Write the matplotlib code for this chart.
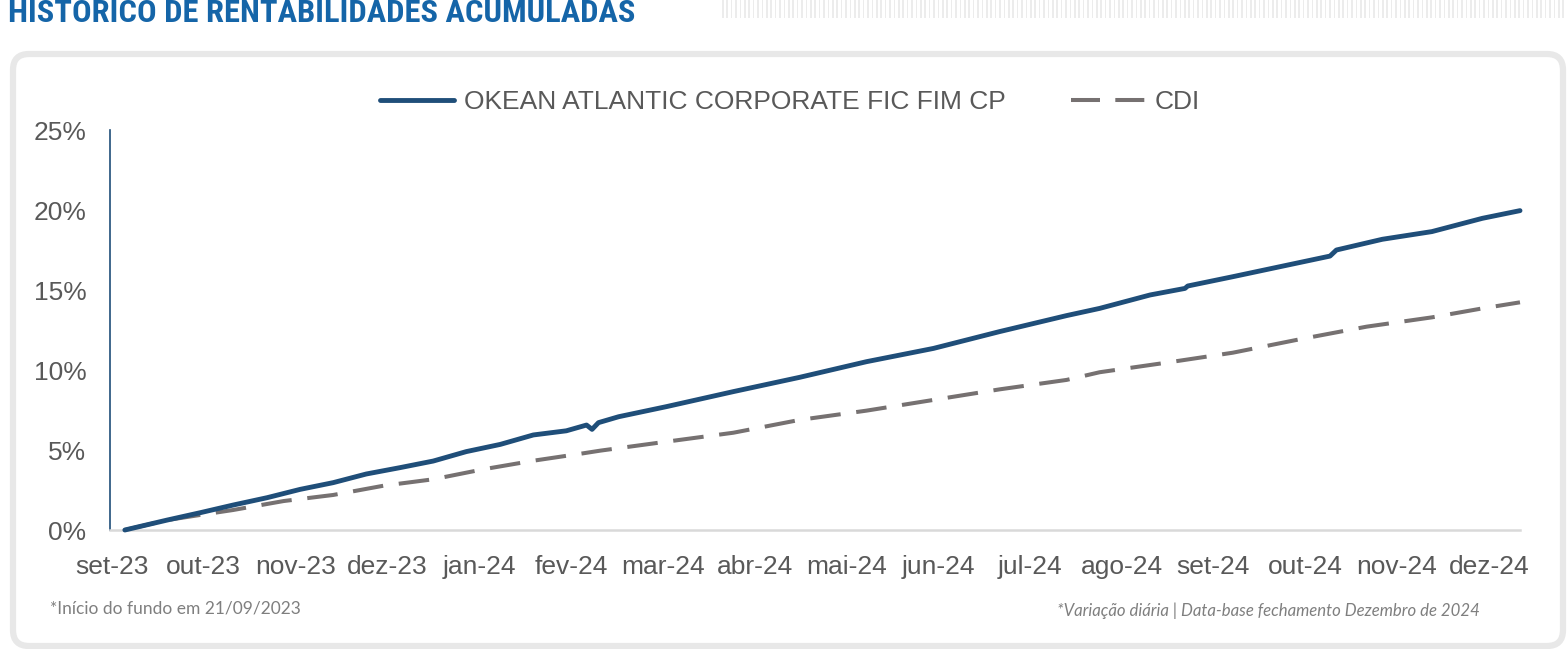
import matplotlib
matplotlib.use("Agg")
import matplotlib.pyplot as plt
import numpy as np
from matplotlib import font_manager
from matplotlib.patches import FancyBboxPatch, Rectangle
from matplotlib.transforms import IdentityTransform
from matplotlib.lines import Line2D

# ---------------- data ----------------
months = ["set-23", "out-23", "nov-23", "dez-23", "jan-24", "fev-24", "mar-24", "abr-24",
          "mai-24", "jun-24", "jul-24", "ago-24", "set-24", "out-24", "nov-24", "dez-24"]

# position along the axis, in month-label units (0 = "set-23" label)
fund_pos = [0.14, 0.60, 0.96, 1.32, 1.69, 2.05, 2.41, 2.77, 3.14, 3.50, 3.86, 4.23, 4.59,
            4.95, 5.17, 5.23, 5.30, 5.52, 6.04, 6.77, 7.49, 8.22, 8.95, 9.67, 10.40, 10.76,
            11.31, 11.69, 11.72, 12.21, 12.76, 13.27, 13.34, 13.84, 14.38, 14.93, 15.34]
fund_ret = [0.00, 0.62, 1.08, 1.56, 2.02, 2.54, 2.96, 3.50, 3.90, 4.31, 4.90, 5.35, 5.94,
            6.20, 6.56, 6.29, 6.71, 7.08, 7.71, 8.65, 9.54, 10.52, 11.35, 12.40, 13.40, 13.85,
            14.69, 15.10, 15.25, 15.83, 16.50, 17.12, 17.50, 18.17, 18.65, 19.48, 19.96]

cdi_pos = [0.14, 0.60, 0.96, 1.32, 1.87, 2.41, 2.96, 3.50, 4.04, 4.59, 5.13, 5.32, 6.04,
           6.77, 7.49, 8.22, 8.95, 9.67, 10.40, 10.76, 11.49, 12.21, 12.94, 13.67, 14.38,
           14.93, 15.34]
cdi_ret = [0.00, 0.62, 0.94, 1.25, 1.81, 2.19, 2.77, 3.17, 3.79, 4.33, 4.79, 4.96, 5.52,
           6.08, 6.88, 7.46, 8.13, 8.79, 9.38, 9.86, 10.46, 11.08, 11.92, 12.71, 13.29,
           13.85, 14.23]

y_ticks = [0, 5, 10, 15, 20, 25]
series_names = ["OKEAN ATLANTIC CORPORATE FIC FIM CP", "CDI"]
title = "HISTORICO DE RENTABILIDADES ACUMULADAS"
note_left = "*Início do fundo em 21/09/2023"
note_right = "*Variação diária | Data-base fechamento Dezembro de 2024"

# ---------------- fonts ----------------
available = {f.name for f in font_manager.fontManager.ttflist}
def pick(*names):
    for n in names:
        if n in available:
            return n
    return "DejaVu Sans"

title_font = pick("Liberation Sans Narrow", "Roboto Condensed", "Open Sans Condensed", "DejaVu Sans")
body_font = pick("Liberation Sans", "Arial", "DejaVu Sans")
note_font = pick("Lato", "Open Sans", "DejaVu Sans")

# ---------------- figure ----------------
W, H = 1568, 649
fig = plt.figure(figsize=(W / 100, H / 100), dpi=100)
fig.patch.set_facecolor("white")

# rounded panel
panel = FancyBboxPatch((13, 3), 1550, 592, boxstyle="round,pad=0,rounding_size=16",
                       transform=IdentityTransform(), fc="white", ec="#e8e8e8", lw=4.5,
                       zorder=-5)
fig.patches.append(panel)

# decorative striped band at top right
for xs in np.arange(722, 1566, 4.4):
    fig.patches.append(Rectangle((xs, H - 18), 1.6, 18, transform=IdentityTransform(),
                                 fc="#ececec", ec="none", zorder=-5))

# title
fig.text(8 / W, 1 - 22 / H, title, fontfamily=title_font, fontweight="bold",
         fontsize=23.4, color="#1565a8", ha="left", va="baseline")

# axes
ax = fig.add_axes([110 / W, 1 - 530 / H, (1520 - 110) / W, 400 / H])
ax.set_facecolor("none")
ax.set_zorder(2)

fund_color = "#1f4e79"
cdi_color = "#767171"

ax.plot(fund_pos, fund_ret, color=fund_color, lw=3.5, solid_capstyle="round",
        solid_joinstyle="round", zorder=3, label=series_names[0], clip_on=False)
ax.plot(cdi_pos, cdi_ret, color=cdi_color, lw=2.9, dashes=(7.6, 3.9),
        dash_capstyle="butt", zorder=2, label=series_names[1], clip_on=False)

ax.set_xlim(-0.022, 15.34)
ax.set_ylim(0, 25)
ax.set_xticks(range(len(months)))
ax.set_xticklabels(months)
ax.set_yticks(y_ticks)
ax.set_yticklabels([f"{v}%" for v in y_ticks])

for side in ["top", "right"]:
    ax.spines[side].set_visible(False)
ax.spines["left"].set_color(fund_color)
ax.spines["left"].set_linewidth(1.2)
ax.spines["bottom"].set_color("#d9d9d9")
ax.spines["bottom"].set_linewidth(1.8)
ax.tick_params(axis="both", length=0, labelcolor="#595959", labelsize=19)
ax.tick_params(axis="x", pad=18)
ax.tick_params(axis="y", pad=17)
for lab in ax.get_xticklabels() + ax.get_yticklabels():
    lab.set_fontfamily(body_font)

# legend
handles = [Line2D([], [], color=fund_color, lw=3.5, solid_capstyle="round"),
           Line2D([], [], color=cdi_color, lw=2.9, dashes=(7.2, 3.8))]
leg = fig.legend(handles, series_names, loc="center", ncol=2, frameon=False,
                 bbox_to_anchor=(790 / W, 1 - 102 / H), handlelength=2.8,
                 handletextpad=0.35, columnspacing=2.5, borderpad=0,
                 prop={"family": body_font, "size": 19})
for t in leg.get_texts():
    t.set_color("#595959")

# notes
fig.text(50 / W, 1 - 608 / H, note_left, fontfamily=note_font, fontsize=12.5,
         color="#7f7f7f", ha="left", va="center")
fig.text(1480 / W, 1 - 611 / H, note_right, fontfamily=note_font, fontsize=12.1,
         style="italic", color="#7f7f7f", ha="right", va="center")

fig.savefig("out.png", dpi=100, facecolor="white")
